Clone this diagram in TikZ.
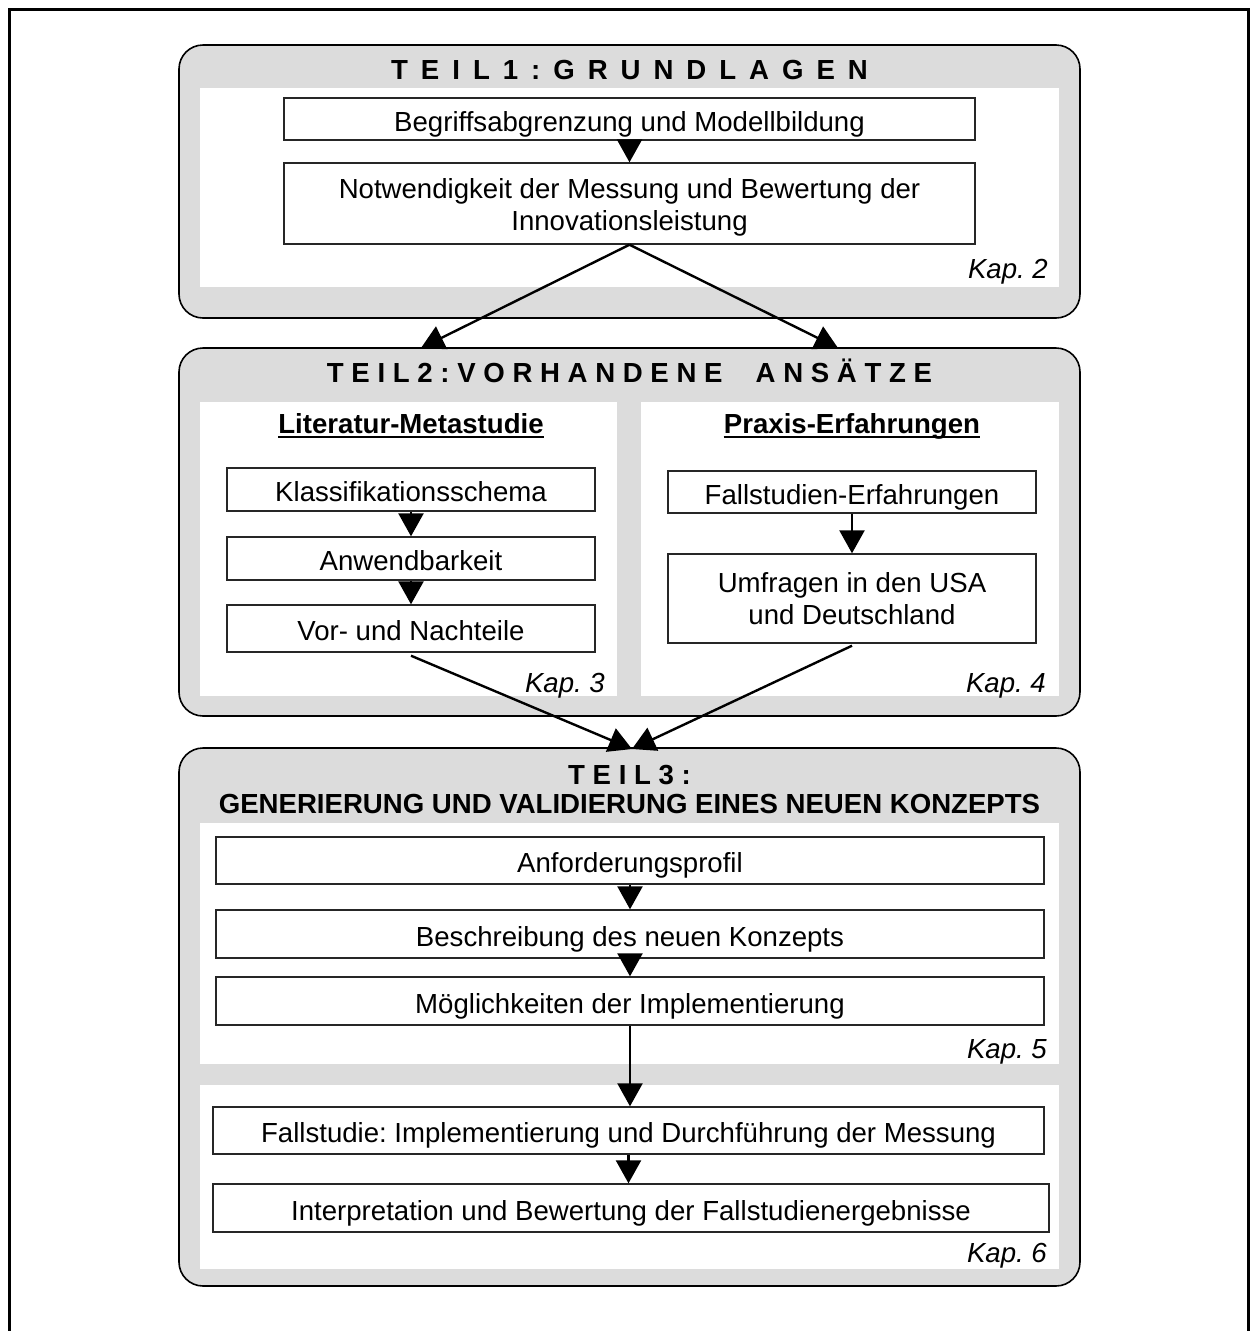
\documentclass[tikz,border=0pt]{standalone}
\usepackage{fontspec}
\setmainfont{Liberation Sans}
\usetikzlibrary{arrows.meta}
\definecolor{panelgray}{RGB}{220,220,220}
\frenchspacing
\newcommand{\widesp}{\spaceskip=0.47em\relax}
\begin{document}
\begin{tikzpicture}[x=1pt,y=-1pt,
  every node/.style={font=\fontsize{27.6}{32}\selectfont\frenchspacing, inner sep=0pt},
  panel/.style={draw=black, line width=1.6pt, fill=panelgray, rounded corners=24pt},
  innerbg/.style={fill=white, draw=none},
  box/.style={draw=black!85, line width=1.4pt, fill=white, align=center, inner sep=0pt},
  one/.style={text height=26pt, text depth=2pt},
  ttl/.style={font=\fontsize{27.6}{32}\selectfont\bfseries, anchor=base},
  kap/.style={font=\fontsize{27.6}{32}\selectfont\itshape\frenchspacing, anchor=base east},
  arr/.style={line width=2.4pt, -{Triangle[width=25pt,length=23pt]}},
]
\useasboundingbox (0,0) rectangle (1250,1331);
\begin{scope}
\clip (0,0) rectangle (1250,1331);
\draw[line width=3pt] (9,1345) -- (9,9) -- (1248,9) -- (1248,1345);
\end{scope}

% ---------- Panel 1 ----------
\draw[panel] (179,45) rectangle (1080,318);
\fill[innerbg] (200,88) rectangle (1059,287);
\node[ttl] (t1) at (629.5,79) {\widesp T E I L 1 : G R U N D L A G E N};
\node[box, one, minimum width=691pt, minimum height=42pt] (b1) at (629.5,119) {Begriffsabgrenzung und Modellbildung};
\node[box, minimum width=691pt, minimum height=81pt] (b2) at (629.5,203.5) {\rule{0pt}{28pt}Notwendigkeit der Messung und Bewertung der\\Innovationsleistung};
\node[kap] (kap2) at (1048,278) {Kap. 2};

% ---------- Panel 2 ----------
\draw[panel] (179,348) rectangle (1080,716);
\fill[innerbg] (200,402) rectangle (617,696);
\fill[innerbg] (641,402) rectangle (1059,696);
\node[ttl] (t2) at (629.5,382) {T E I L 2 : V O R H A N D E N E\hspace{1.2em}A N S Ä T Z E};
\node[ttl] (s1) at (411,433) {Literatur-Metastudie};
\node[ttl] (s2) at (852,433) {Praxis-Erfahrungen};
\draw[line width=2pt] ([yshift=-4pt]s1.base west) -- ([yshift=-4pt]s1.base east);
\draw[line width=2pt] ([yshift=-4pt]s2.base west) -- ([yshift=-4pt]s2.base east);
\node[box, one, minimum width=368pt, minimum height=43pt] (k1) at (411,489.5) {Klassifikationsschema};
\node[box, one, minimum width=368pt, minimum height=43pt] (k2) at (411,558.5) {Anwendbarkeit};
\node[box, one, minimum width=368pt, minimum height=47pt] (k3) at (411,628.5) {Vor- und Nachteile};
\node[box, one, minimum width=368pt, minimum height=42pt] (p1) at (852,492) {Fallstudien-Erfahrungen};
\node[box, minimum width=368pt, minimum height=89pt] (p2) at (852,598.5) {Umfragen in den USA\\und Deutschland};
\node[kap] (kap3) at (605,692) {Kap. 3};
\node[kap] (kap4) at (1046,692) {Kap. 4};

% ---------- Panel 3 ----------
\draw[panel] (179,748) rectangle (1080,1286);
\fill[innerbg] (200,823) rectangle (1059,1064);
\fill[innerbg] (200,1085) rectangle (1059,1269);
\node[ttl] (t3a) at (629.5,784) {T E I L 3 :};
\node[ttl] (t3b) at (629.5,813) {GENERIERUNG UND VALIDIERUNG EINES NEUEN KONZEPTS};
\node[box, one, minimum width=828pt, minimum height=47pt] (c1) at (630,860.5) {Anforderungsprofil};
\node[box, one, minimum width=828pt, minimum height=48pt] (c2) at (630,934) {Beschreibung des neuen Konzepts};
\node[box, one, minimum width=828pt, minimum height=48pt] (c3) at (630,1001) {Möglichkeiten der Implementierung};
\node[kap] (kap5) at (1047,1058) {Kap. 5};
\node[box, one, minimum width=831pt, minimum height=47pt] (c4) at (628.5,1130.5) {Fallstudie: Implementierung und Durchführung der Messung};
\node[box, one, minimum width=836pt, minimum height=48pt] (c5) at (631,1208) {Interpretation und Bewertung der Fallstudienergebnisse};
\node[kap] (kap6) at (1047,1262) {Kap. 6};

% ---------- Connectors ----------
\coordinate (a2l) at (421,348);
\coordinate (a2r) at (838,348);
\coordinate (a3) at (632,749);
\draw[arr] (b1.south) -- (b2.north);
\draw[arr] (b2.south) -- (a2l);
\draw[arr] (b2.south) -- (a2r);
\draw[arr] (k1.south) -- (k2.north);
\draw[arr] (k2.south) -- (k3.north);
\draw[arr] (p1.south) -- (p2.north);
\draw[arr] ([yshift=-3pt]k3.south) -- (a3);
\draw[arr] ([yshift=-2pt]p2.south) -- (a3);
\draw[arr] (c1.south) -- (c2.north);
\draw[arr] (c2.south) -- (c3.north);
\draw[arr] (c3.south) -- (c3.south |- c4.north);
\draw[arr] (c4.south) -- (c4.south |- c5.north);
\end{tikzpicture}
\end{document}
